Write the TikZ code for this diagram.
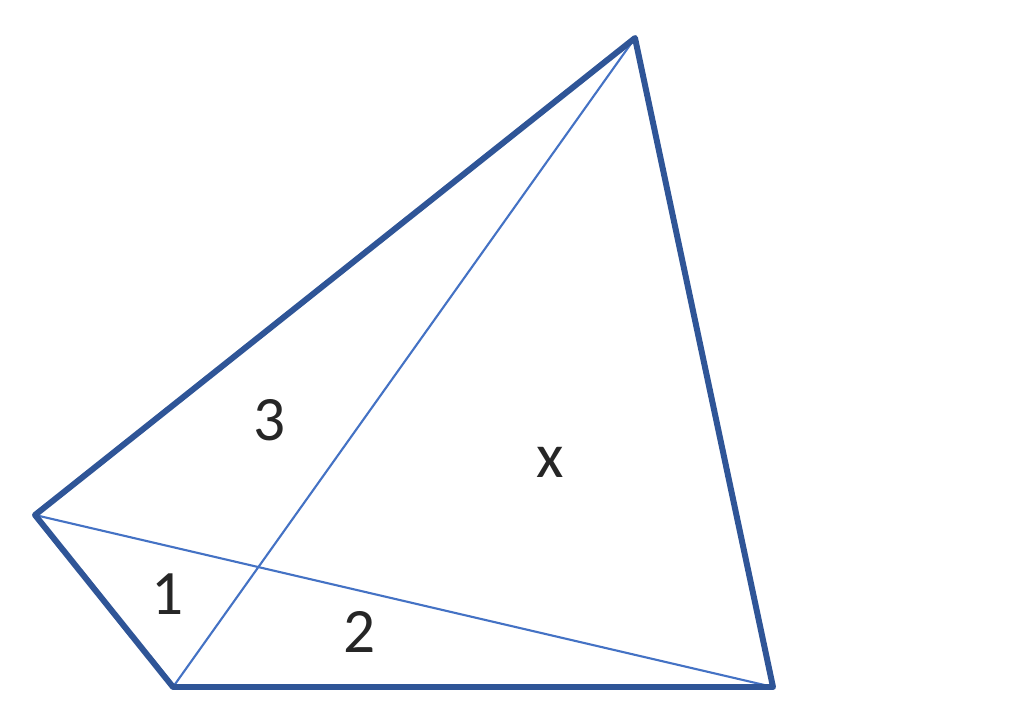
\documentclass[tikz,border=0pt]{standalone}
\usepackage{fontspec}
\setmainfont{Carlito}
\definecolor{edgeblue}{RGB}{47,85,151}
\definecolor{diagblue}{RGB}{68,114,196}

\begin{document}
\begin{tikzpicture}[x=0.02cm, y=-0.02cm,
                    side/.style={draw=edgeblue, line width=3.4pt, line join=round},
                    diag/.style={draw=diagblue, line width=1.2pt},
                    area/.style={font=\fontsize{36}{40}\selectfont, text=black!85}]
  \useasboundingbox (0,0) rectangle (1024,720);
  \coordinate (A) at (35,515);
  \coordinate (B) at (173,687);
  \coordinate (C) at (773,687);
  \coordinate (D) at (635,38);
   \draw[diag] (A) -- (C);
   \draw[diag] (B) -- (D);
   \draw[side] (A) -- (B) -- (C) -- (D) -- cycle;
   \node[area] (three) at (270,420) {3};
   \node[area] (ex) at (550,462) {x};
   \node[area] (one) at (168,594) {1};
   \node[area] (two) at (360,632) {2};
 \end{tikzpicture}
\end{document}
